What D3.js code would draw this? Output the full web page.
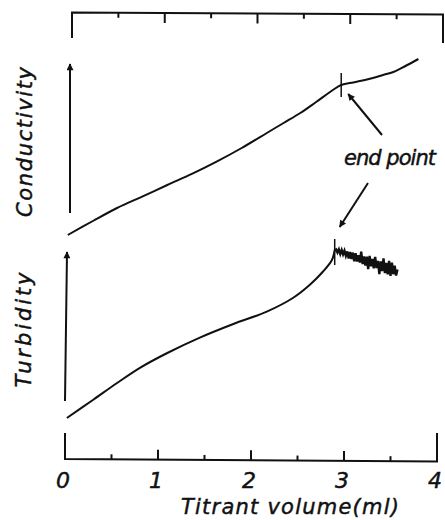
<!DOCTYPE html>
<html>
<head>
<meta charset="utf-8">
<script src="https://cdn.jsdelivr.net/npm/d3@7"></script>
<style>
  html, body { margin: 0; padding: 0; background: #fff; }
  svg { display: block; }
  text { font-family: "DejaVu Sans", sans-serif; font-style: italic; fill: #111; stroke: #111; stroke-width: 0.45px; }
</style>
</head>
<body>
<svg id="chart" width="445" height="520"></svg>
<script>
// ---- data ----
const xTickLabels = [0, 1, 2, 3, 4];
const majorTicks = [1, 2, 3];
const minorTicks = [0.5, 1.5, 2.5, 3.5];

// Conductivity (arbitrary units)
const condX = [0.03, 0.30, 0.56, 0.83, 1.10, 1.37, 1.63, 1.90, 2.17, 2.35, 2.53, 2.70, 2.88, 2.97, 3.06, 3.20, 3.31, 3.42, 3.53, 3.66, 3.80];
const condY = [0.5, 1.2, 1.85, 2.42, 3.0, 3.57, 4.17, 4.85, 5.6, 6.1, 6.6, 7.15, 7.75, 8.0, 8.1, 8.22, 8.35, 8.5, 8.65, 8.95, 9.3];

// Turbidity (arbitrary units), rising part up to end point
const turbX = [0.02, 0.30, 0.56, 0.81, 1.10, 1.45, 1.81, 2.17, 2.45, 2.63, 2.77, 2.87, 2.90];
const turbY = [0.6, 1.5, 2.35, 3.12, 3.85, 4.62, 5.3, 5.92, 6.6, 7.25, 7.9, 8.5, 9.0];

// Turbidity noisy tail after end point
const tailX = [2.900, 2.915, 2.930, 2.945, 2.960, 2.975, 2.990, 3.005, 3.020, 3.035,
               3.050, 3.065, 3.080, 3.095, 3.110, 3.125, 3.140, 3.155, 3.170, 3.185,
               3.200, 3.215, 3.230, 3.245, 3.260, 3.275, 3.290, 3.305, 3.320, 3.335,
               3.350, 3.365, 3.380, 3.395, 3.410, 3.425, 3.440, 3.455, 3.470, 3.485,
               3.500, 3.515, 3.530, 3.545, 3.560, 3.575];
const tailY = [9.00, 9.03, 8.87, 9.03, 8.80, 9.00, 8.78, 8.97, 8.71, 8.93,
               8.58, 8.90, 8.55, 8.87, 8.43, 8.84, 8.42, 8.74, 8.37, 8.92,
               8.30, 8.68, 8.22, 8.67, 8.04, 8.70, 8.18, 8.55, 8.08, 8.65,
               8.10, 8.46, 7.80, 8.43, 7.95, 8.58, 7.84, 8.36, 7.78, 8.46,
               7.70, 8.37, 7.79, 8.22, 7.72, 8.02];

const condEnd = 2.97;   // end point on conductivity
const turbEnd = 2.90;   // end point on turbidity

// ---- drawing ----
const svg = d3.select("#chart");
const x = d3.scaleLinear().domain([0, 4]).range([65, 437]);
const xTop = d3.scaleLinear().domain([0, 4]).range([72, 443]);
const yC = d3.scaleLinear().domain([0, 10]).range([245, 45]);
const yT = d3.scaleLinear().domain([0, 10]).range([430, 230]);

const ink = "#111";

svg.append("defs").append("marker")
  .attr("id", "ah").attr("viewBox", "0 0 10 10")
  .attr("refX", 9).attr("refY", 5)
  .attr("markerWidth", 12).attr("markerHeight", 7)
  .attr("markerUnits", "userSpaceOnUse")
  .attr("orient", "auto")
  .append("path").attr("d", "M0,0 L10,5 L0,10 Z").attr("fill", ink);

// Top frame
const gTop = svg.append("g").attr("stroke", ink).attr("stroke-width", 2).attr("fill", "none");
gTop.append("path").attr("d", `M${xTop(0)},38 L${xTop(0)},12.5 L${xTop(4)},14.5 L${xTop(4)},43`);
majorTicks.forEach(v => {
  const yy = 12.5 + 2 * v / 4;
  gTop.append("line").attr("x1", xTop(v)).attr("x2", xTop(v)).attr("y1", yy).attr("y2", yy + 10);
});
minorTicks.forEach(v => {
  const yy = 12.5 + 2 * v / 4;
  gTop.append("line").attr("x1", xTop(v)).attr("x2", xTop(v)).attr("y1", yy).attr("y2", yy + 5);
});

// Bottom axis frame
const gBot = svg.append("g").attr("stroke", ink).attr("stroke-width", 2).attr("fill", "none");
gBot.append("path").attr("d", `M${x(0)},433 L${x(0)},459 L${x(4)},461.5 L${x(4)},433`);
majorTicks.forEach(v => {
  const yy = 459 + 2.5 * v / 4;
  gBot.append("line").attr("x1", x(v)).attr("x2", x(v)).attr("y1", yy).attr("y2", yy - 10);
});
minorTicks.forEach(v => {
  const yy = 459 + 2.5 * v / 4;
  gBot.append("line").attr("x1", x(v)).attr("x2", x(v)).attr("y1", yy).attr("y2", yy - 5);
});

svg.append("g").selectAll("text").data(xTickLabels).join("text")
  .attr("x", d => x(d) - 2).attr("y", 488)
  .attr("text-anchor", "middle")
  .attr("font-size", 22)
  .text(d => d);

svg.append("text")
  .attr("x", 290).attr("y", 514)
  .attr("text-anchor", "middle")
  .attr("font-size", 21)
  .attr("textLength", 218).attr("lengthAdjust", "spacing")
  .text("Titrant volume(ml)");

// Y labels
svg.append("text")
  .attr("transform", "translate(32,142) rotate(-90)")
  .attr("text-anchor", "middle")
  .attr("font-size", 21)
  .attr("textLength", 150).attr("lengthAdjust", "spacing")
  .text("Conductivity");
svg.append("text")
  .attr("transform", "translate(31,330) rotate(-90)")
  .attr("text-anchor", "middle")
  .attr("font-size", 21)
  .attr("textLength", 115).attr("lengthAdjust", "spacing")
  .text("Turbidity");

// Y arrows
svg.append("line").attr("x1", x(0) + 5).attr("y1", 213).attr("x2", x(0) + 5).attr("y2", 64)
  .attr("stroke", ink).attr("stroke-width", 2).attr("marker-end", "url(#ah)");
svg.append("line").attr("x1", x(0)).attr("y1", 401).attr("x2", x(0) + 2).attr("y2", 252)
  .attr("stroke", ink).attr("stroke-width", 2).attr("marker-end", "url(#ah)");

// Curves
const line = d3.line().curve(d3.curveCatmullRom.alpha(0.5));
svg.append("path")
  .attr("d", line(condX.map((v, i) => [x(v), yC(condY[i])])))
  .attr("fill", "none").attr("stroke", ink).attr("stroke-width", 2);
svg.append("path")
  .attr("d", line(turbX.map((v, i) => [x(v), yT(turbY[i])])))
  .attr("fill", "none").attr("stroke", ink).attr("stroke-width", 2);
svg.append("path")
  .attr("d", d3.line()(tailX.map((v, i) => [x(v), yT(tailY[i])])))
  .attr("fill", "none").attr("stroke", ink).attr("stroke-width", 2.4).attr("stroke-linejoin", "miter");

// End point markers
svg.append("line").attr("x1", x(condEnd)).attr("x2", x(condEnd))
  .attr("y1", yC(condY[13]) - 12).attr("y2", yC(condY[13]) + 12)
  .attr("stroke", ink).attr("stroke-width", 1.5);
svg.append("line").attr("x1", x(turbEnd)).attr("x2", x(turbEnd))
  .attr("y1", yT(9.0) - 11).attr("y2", yT(9.0) + 15)
  .attr("stroke", ink).attr("stroke-width", 1.5);

// Annotation
svg.append("text")
  .attr("x", 390).attr("y", 165)
  .attr("text-anchor", "middle")
  .attr("font-size", 21)
  .attr("textLength", 92).attr("lengthAdjust", "spacing")
  .text("end point");
svg.append("line").attr("x1", 382).attr("y1", 135).attr("x2", x(condEnd) + 7).attr("y2", yC(condY[13]) + 9)
  .attr("stroke", ink).attr("stroke-width", 2).attr("marker-end", "url(#ah)");
svg.append("line").attr("x1", 368).attr("y1", 183).attr("x2", x(turbEnd) + 5).attr("y2", 227)
  .attr("stroke", ink).attr("stroke-width", 2).attr("marker-end", "url(#ah)");
</script>
</body>
</html>
